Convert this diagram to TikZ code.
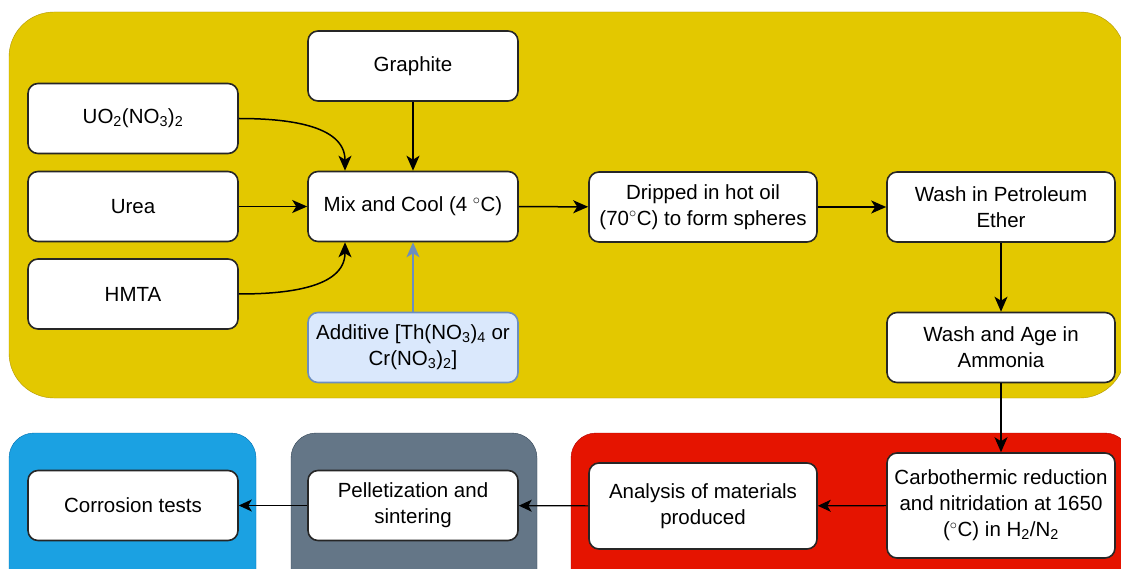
\documentclass[tikz,border=0pt]{standalone}
\usepackage{fontspec}
\setmainfont{Liberation Sans}
\usetikzlibrary{arrows.meta}

\definecolor{yellowfill}{HTML}{E3C800}
\definecolor{yellowline}{HTML}{B09500}
\definecolor{redfill}{HTML}{E51400}
\definecolor{redline}{HTML}{B20000}
\definecolor{bluefill}{HTML}{1BA1E2}
\definecolor{blueline}{HTML}{006EAF}
\definecolor{grayfill}{HTML}{647687}
\definecolor{grayline}{HTML}{314354}
\definecolor{addfill}{HTML}{DAE8FC}
\definecolor{addline}{HTML}{6C8EBF}

\tikzset{
  stepbox/.style={draw=black!85, fill=white, line width=1.6pt, rounded corners=10pt,
    minimum width=210pt, minimum height=70pt, inner sep=2pt, align=center,
    font=\fontsize{20.5}{26}\selectfont},
  widebox/.style={stepbox, minimum width=228pt},
  flow/.style={line width=1.5pt, -{Stealth[length=15pt,width=13pt,inset=4pt]}},
  thinflow/.style={line width=1.1pt, -{Stealth[length=13pt,width=12pt,inset=3.5pt]}}
}

\begin{document}
\begin{tikzpicture}[x=1pt,y=-1pt]
      \clip (0,0) rectangle (1121,569);
      % stage backgrounds
      \draw[fill=yellowfill, draw=yellowline, rounded corners=45pt] (9,12) rectangle (1125,398);
      \draw[fill=bluefill, draw=blueline, rounded corners=25pt] (9,433) rectangle (256,600);
      \draw[fill=grayfill, draw=grayline, rounded corners=25pt] (291,433) rectangle (537,600);
      \draw[fill=redfill, draw=redline, rounded corners=25pt] (571,433) rectangle (1130,600);

      \node[stepbox] (graphite) at (413,66) {Graphite};
      \node[stepbox] (uo2) at (133,118.5) {UO\textsubscript{2}(NO\textsubscript{3})\textsubscript{2}};
      \node[stepbox] (urea) at (133,206.5) {Urea};
      \node[stepbox] (hmta) at (133,294) {HMTA};
      \node[stepbox] (mix) at (413,206.5) {Mix and Cool (4 $^\circ$C)};
      \node[stepbox, fill=addfill, draw=addline] (additive) at (413,347.5)
        {Additive [Th(NO\textsubscript{3})\textsubscript{4} or\\Cr(NO\textsubscript{3})\textsubscript{2}]};
      \node[widebox] (drip) at (703,207) {Dripped in hot oil\\(70$^\circ$C) to form spheres};
      \node[widebox] (petrol) at (1001,207) {Wash in Petroleum\\Ether};
      \node[widebox] (ammonia) at (1001,347.5) {Wash and Age in\\Ammonia};
      \node[widebox, minimum height=105pt] (carbo) at (1001,505.5)
        {Carbothermic reduction\\and nitridation at 1650\\($^\circ$C) in H\textsubscript{2}/N\textsubscript{2}};
      \node[widebox, minimum height=86pt] (analysis) at (703,506) {Analysis of materials\\produced};
      \node[stepbox] (pellet) at (413,505.5) {Pelletization and\\sintering};
      \node[stepbox] (corrosion) at (133,505.5) {Corrosion tests};

      \draw[flow] (uo2.east) to[out=0, in=90] ([xshift=-68pt]mix.north);
      \draw[flow] (graphite) -- (mix);
      \draw[flow] (urea) -- (mix);
      \draw[flow] (hmta.east) to[out=0, in=-90] ([xshift=-68pt]mix.south);
      \draw[flow, draw=addline, fill=addline] (additive) -- (mix);
      \draw[flow] (mix) -- (drip);
      \draw[flow] (drip) -- (petrol);
      \draw[flow] (petrol) -- (ammonia);
      \draw[flow] (ammonia) -- (carbo);
      \draw[thinflow] (carbo) -- (analysis);
      \draw[thinflow] (analysis) -- (pellet);
      \draw[thinflow] (pellet) -- (corrosion);
    \end{tikzpicture}
\end{document}
